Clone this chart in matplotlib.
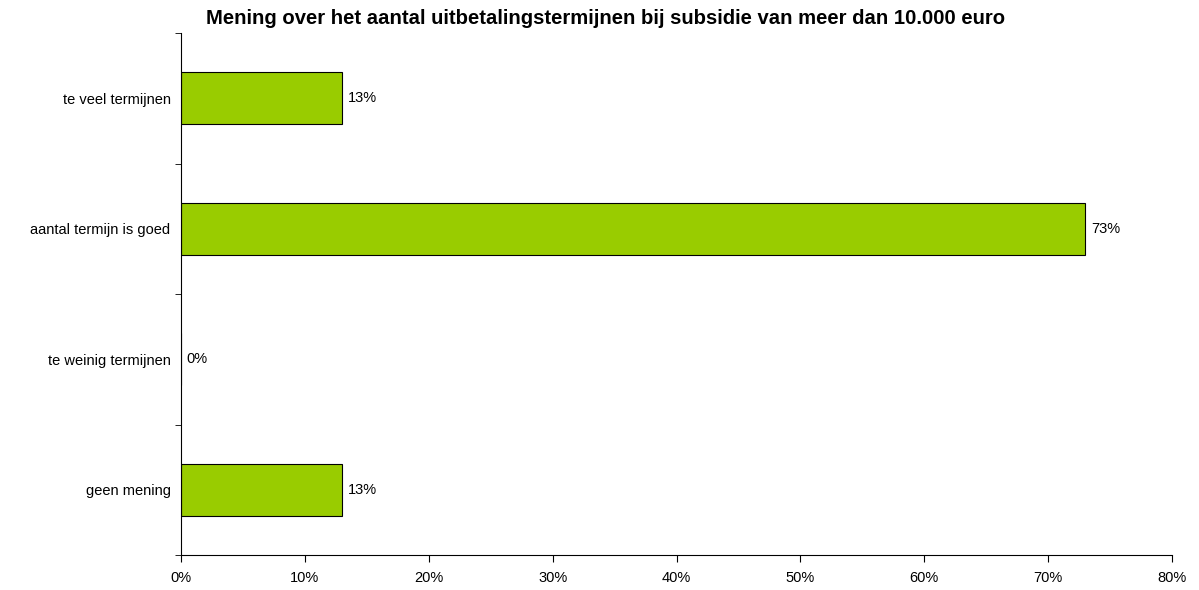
import matplotlib
matplotlib.use("Agg")
import matplotlib.pyplot as plt
import numpy as np

categories = ["te veel termijnen", "aantal termijn is goed", "te weinig termijnen", "geen mening"]
values = [13, 73, 0, 13]
x_ticks = [0, 10, 20, 30, 40, 50, 60, 70, 80]

plt.rcParams["font.family"] = ["Liberation Sans", "DejaVu Sans"]

fig = plt.figure(figsize=(11.99, 5.9), dpi=100)
ax = fig.add_axes([181 / 1199, 1 - 555 / 590, (1172 - 181) / 1199, (555 - 33) / 590])

y = np.arange(len(categories))[::-1]
ax.barh(y, values, height=0.4, color="#99CC00", edgecolor="black", linewidth=0.8)

for yi, v in zip(y, values):
    ax.text(v + 0.45, yi, f"{v}%", va="center", ha="left", fontsize=10.5)

ax.set_xlim(0, 80)
ax.set_ylim(-0.5, len(categories) - 0.5)
ax.set_xticks(x_ticks)
ax.set_xticklabels([f"{t}%" for t in x_ticks], fontsize=10.5)
ax.set_yticks(y)
ax.set_yticklabels(categories, fontsize=10.5)
ax.set_yticks(np.arange(-0.5, len(categories), 1), minor=True)
ax.tick_params(axis="y", which="major", length=0, pad=7.5)
ax.tick_params(axis="y", which="minor", length=4, direction="out")
ax.tick_params(axis="x", which="major", length=5, direction="out", pad=6.5)

for side in ["top", "right"]:
    ax.spines[side].set_visible(False)
for side in ["left", "bottom"]:
    ax.spines[side].set_linewidth(0.8)

fig.text(0.505, 0.968, "Mening over het aantal uitbetalingstermijnen bij subsidie van meer dan 10.000 euro",
         ha="center", va="center", fontsize=14.6, fontweight="bold")

fig.savefig("out.png", dpi=100)
